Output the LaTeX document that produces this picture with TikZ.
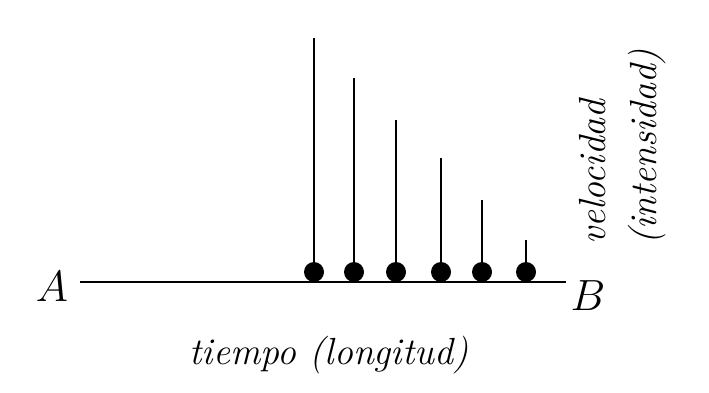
\documentclass[tikz,border=0pt]{standalone}
\usepackage{tikz}
\usetikzlibrary{positioning}

\begin{document}
\begin{tikzpicture}[
  x=0.02cm, y=-0.02cm,
  dot/.style={circle, fill=black, inner sep=0pt, minimum size=0.4cm},
  axis/.style={line width=1.1pt},
  stem/.style={line width=1.1pt},
  big/.style={font=\fontsize{30}{36}\selectfont},
  lbl/.style={font=\fontsize{21.5}{29}\selectfont\itshape}
]
\useasboundingbox (0,0) rectangle (709,392);
% --- base line A -- B ---
\node[big] (A) at (52,287) {$A$};
\node[big] (B) at (588,296) {$B$};
\coordinate (left) at (80,282);
\coordinate (right) at (566,282);
\draw[axis] (left) -- (right);

% stems with dots, shorter to the right
\foreach \i/\x/\top in {1/314/38, 2/354/78, 3/396/120, 4/441/158, 5/482/200, 6/526/240} {
  \coordinate (top\i) at (\x,\top);
  \node[dot] (d\i) at (\x,272) {};
  \draw[stem] (d\i.center) -- (top\i);
}

% --- axis labels ---
\node[lbl] (tiempo) at (329,355) {tiempo (longitud)};
\node[lbl, rotate=90, align=left] (velocidad) at (623,147) {velocidad\\(intensidad)};
\end{tikzpicture}
\end{document}
